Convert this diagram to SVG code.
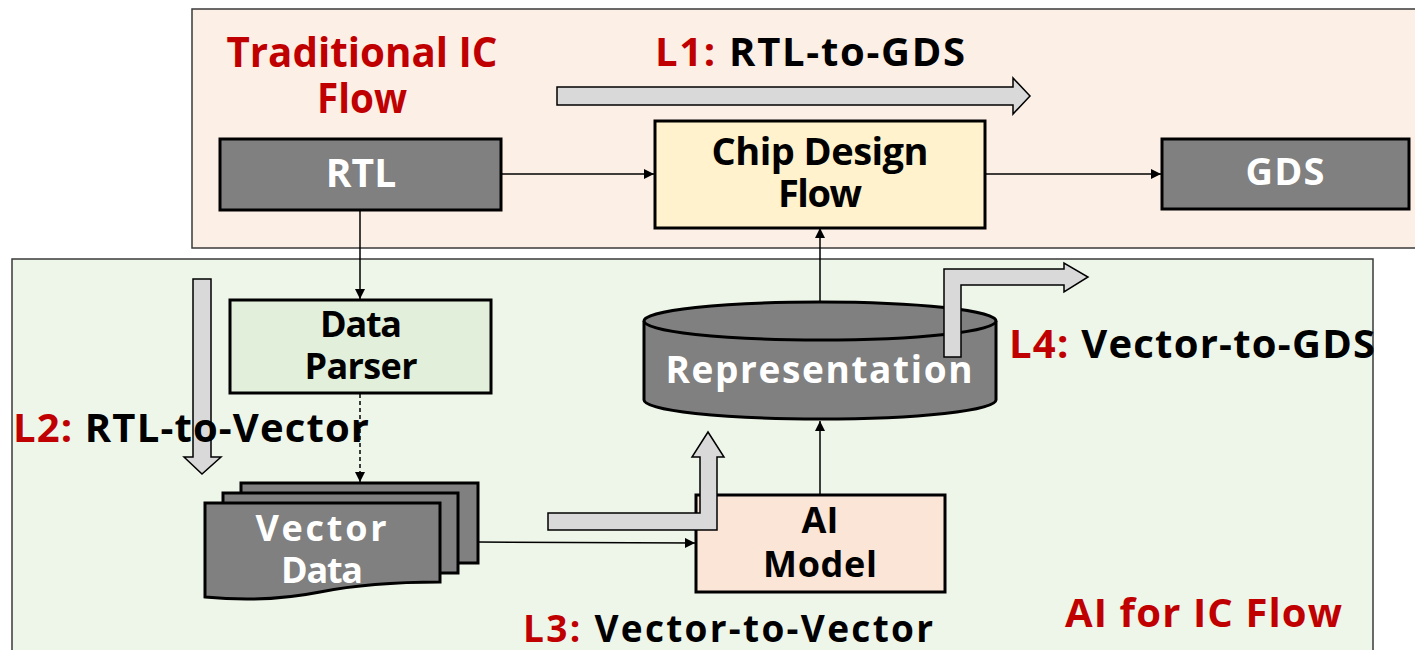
<svg xmlns="http://www.w3.org/2000/svg" width="1415" height="650" viewBox="0 0 1415 650">
  <defs>
    <marker id="arr" viewBox="0 0 10 10" refX="10" refY="5" markerWidth="11" markerHeight="10" markerUnits="userSpaceOnUse" orient="auto">
      <path d="M0,0 L10,5 L0,10 Z" fill="#000"/>
    </marker>
    <style>
      .panel { stroke: #3a3a3a; stroke-width: 1.5; }
      .box { stroke: #000; stroke-width: 3; }
      .dark { fill: #808080; }
      .conn { fill: none; stroke: #000; stroke-width: 1.5; marker-end: url(#arr); }
      .dash { stroke-dasharray: 4 3; }
      .block { fill: #d9d9d9; stroke: #000; stroke-width: 1.5; stroke-linejoin: miter; }
      text { font-family: "Open Sans", "Noto Sans", "DejaVu Sans", sans-serif; font-weight: 700; }
      .red { fill: #c00000; }
      .blk { fill: #000; }
      .wht { fill: #fff; }
      .mid { text-anchor: middle; }
    </style>
  </defs>

  <!-- background panels -->
  <rect x="192" y="9" width="1240" height="239" fill="#fcefe6" class="panel"/>
  <rect x="12" y="259" width="1361" height="400" fill="#eef5e9" class="panel"/>

  <!-- nodes -->
  <g id="rtl">
    <rect x="220" y="139" width="281" height="71" class="box dark"/>
    <text x="361" y="187" class="wht mid" font-size="39">RTL</text>
  </g>
  <g id="chip-design-flow">
    <rect x="655" y="121" width="330" height="107" fill="#fff2cc" class="box"/>
    <text x="820" y="165" class="blk mid" font-size="38" textLength="217">Chip Design</text>
    <text x="820" y="207" class="blk mid" font-size="38" textLength="84">Flow</text>
  </g>
  <g id="gds">
    <rect x="1162" y="139" width="247" height="70" class="box dark"/>
    <text x="1285" y="185" class="wht mid" font-size="38" textLength="79">GDS</text>
  </g>
  <g id="data-parser">
    <rect x="230" y="300" width="261" height="93" fill="#e2efda" class="box"/>
    <text x="361" y="337" class="blk mid" font-size="36" textLength="82">Data</text>
    <text x="361" y="379" class="blk mid" font-size="36" textLength="113">Parser</text>
  </g>
  <g id="vector-data">
    <rect x="241" y="483" width="237" height="80" class="box dark"/>
    <rect x="223" y="493" width="235" height="80" class="box dark"/>
    <path d="M205,503 H440 V582 C400,582 360,584 320,592 C285,599 245,601 205,597 Z" class="box dark"/>
    <text x="321" y="541" class="wht mid" font-size="36" textLength="131">Vector</text>
    <text x="322" y="583" class="wht mid" font-size="36" textLength="82">Data</text>
  </g>
  <g id="representation">
    <path d="M644,321 V400 A176,19 0 0 0 996,400 V321" class="box dark"/>
    <ellipse cx="820" cy="321" rx="176" ry="19" class="box dark"/>
    <text x="819" y="383" class="wht mid" font-size="37" textLength="307">Representation</text>
  </g>
  <g id="ai-model">
    <rect x="696" y="495" width="249" height="97" fill="#fbe5d6" class="box"/>
    <text x="820" y="533" class="blk mid" font-size="36" textLength="37">AI</text>
    <text x="820" y="577" class="blk mid" font-size="36" textLength="114">Model</text>
  </g>

  <!-- connectors -->
  <g id="connectors">
    <path d="M502,174 H654" class="conn"/>
    <path d="M985,174 H1161" class="conn"/>
    <path d="M360,210 V299" class="conn"/>
    <path d="M360,394 V482" class="conn dash"/>
    <path d="M478,542 L695,543" class="conn"/>
    <path d="M820,494 V421" class="conn"/>
    <path d="M820,302 V228" class="conn"/>
  </g>

  <!-- level arrows -->
  <g id="level-arrows">
    <polygon points="557,87 1013,87 1013,78 1030,96 1013,114 1013,105 557,105" class="block"/>
    <polygon points="193,279 211,279 211,457 221,457 202,474 184,457 193,457" class="block"/>
    <polygon points="548,513 700,513 700,457 692,457 708,432 724,457 717,457 717,530 548,530" class="block"/>
    <polygon points="944,357 944,269 1064,269 1064,263 1088,277 1064,292 1064,285 961,285 961,357" class="block"/>
  </g>

  <!-- labels -->
  <g id="labels">
    <text x="362" y="67" class="red mid" font-size="42" textLength="271" lengthAdjust="spacingAndGlyphs">Traditional IC</text>
    <text x="362" y="113" class="red mid" font-size="42" textLength="90" lengthAdjust="spacingAndGlyphs">Flow</text>
    <text x="655" y="66" font-size="40" textLength="310"><tspan class="red">L1:</tspan><tspan class="blk"> RTL-to-GDS</tspan></text>
    <text x="13" y="442" font-size="40" textLength="356"><tspan class="red">L2:</tspan><tspan class="blk"> RTL-to-Vector</tspan></text>
    <text x="523" y="642" font-size="37" textLength="410"><tspan class="red">L3:</tspan><tspan class="blk"> Vector-to-Vector</tspan></text>
    <text x="1009" y="358" font-size="40" textLength="366"><tspan class="red">L4:</tspan><tspan class="blk"> Vector-to-GDS</tspan></text>
    <text x="1065" y="627" class="red" font-size="40" textLength="277">AI for IC Flow</text>
  </g>
</svg>
